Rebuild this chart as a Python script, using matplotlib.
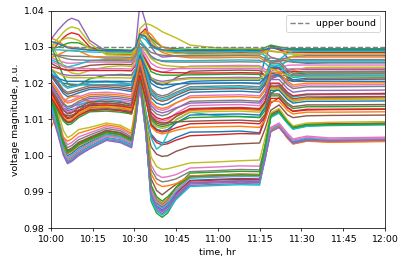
import matplotlib.pyplot as plt

# sample times, minutes after 10:00
MINUTES = [0, 2.5, 4.5, 6, 7.5, 10, 14, 20, 25, 29,
           30.5, 32, 34, 36, 38, 40, 42, 45, 50, 60,
           68, 75, 77, 79, 82, 85, 87, 92, 100, 120]

TICK_MINUTES = [0, 15, 30, 45, 60, 75, 90, 105, 120]
TICK_LABELS = ["10:00", "10:15", "10:30", "10:45", "11:00",
               "11:15", "11:30", "11:45", "12:00"]
UPPER_BOUND = 1.03

# buses that stay near the upper bound
high_1 = [1.0320, 1.0345, 1.0362, 1.0373, 1.0379, 1.0372, 1.0318, 1.0287, 1.0286, 1.0285,
          1.0300, 1.0420, 1.0370, 1.0300, 1.0280, 1.0272, 1.0273, 1.0275, 1.0276, 1.0277,
          1.0278, 1.0278, 1.0285, 1.0272, 1.0265, 1.0270, 1.0274, 1.0276, 1.0276, 1.0276]
high_2 = [1.0300, 1.0322, 1.0340, 1.0350, 1.0355, 1.0350, 1.0310, 1.0278, 1.0277, 1.0276,
          1.0290, 1.0350, 1.0365, 1.0360, 1.0352, 1.0342, 1.0335, 1.0325, 1.0305, 1.0297,
          1.0296, 1.0295, 1.0288, 1.0250, 1.0240, 1.0265, 1.0275, 1.0280, 1.0281, 1.0281]
high_3 = [1.0285, 1.0308, 1.0325, 1.0334, 1.0339, 1.0334, 1.0300, 1.0281, 1.0280, 1.0279,
          1.0295, 1.0335, 1.0350, 1.0320, 1.0300, 1.0290, 1.0287, 1.0284, 1.0282, 1.0283,
          1.0284, 1.0283, 1.0290, 1.0300, 1.0292, 1.0285, 1.0284, 1.0285, 1.0285, 1.0285]
high_4 = [1.0295, 1.0299, 1.0305, 1.0310, 1.0312, 1.0311, 1.0298, 1.0293, 1.0292, 1.0291,
          1.0300, 1.0325, 1.0340, 1.0325, 1.0310, 1.0300, 1.0297, 1.0295, 1.0293, 1.0293,
          1.0294, 1.0293, 1.0298, 1.0305, 1.0300, 1.0296, 1.0295, 1.0295, 1.0295, 1.0295]
high_5 = [1.0325, 1.0316, 1.0306, 1.0300, 1.0299, 1.0297, 1.0292, 1.0289, 1.0288, 1.0287,
          1.0298, 1.0330, 1.0332, 1.0310, 1.0295, 1.0285, 1.0280, 1.0274, 1.0270, 1.0270,
          1.0271, 1.0270, 1.0262, 1.0255, 1.0262, 1.0270, 1.0272, 1.0272, 1.0272, 1.0272]
high_6 = [1.0220, 1.0207, 1.0200, 1.0198, 1.0197, 1.0196, 1.0195, 1.0195, 1.0195, 1.0194,
          1.0220, 1.0280, 1.0240, 1.0200, 1.0190, 1.0185, 1.0188, 1.0196, 1.0205, 1.0207,
          1.0208, 1.0208, 1.0270, 1.0302, 1.0298, 1.0270, 1.0258, 1.0255, 1.0256, 1.0256]
high_7 = [1.0265, 1.0257, 1.0250, 1.0245, 1.0247, 1.0252, 1.0262, 1.0265, 1.0265, 1.0264,
          1.0280, 1.0320, 1.0300, 1.0270, 1.0265, 1.0262, 1.0262, 1.0262, 1.0262, 1.0263,
          1.0264, 1.0263, 1.0255, 1.0240, 1.0250, 1.0260, 1.0262, 1.0262, 1.0262, 1.0262]
high_8 = [1.0255, 1.0245, 1.0238, 1.0235, 1.0237, 1.0242, 1.0249, 1.0252, 1.0252, 1.0251,
          1.0265, 1.0290, 1.0250, 1.0210, 1.0198, 1.0195, 1.0200, 1.0215, 1.0233, 1.0235,
          1.0236, 1.0235, 1.0220, 1.0212, 1.0225, 1.0235, 1.0238, 1.0238, 1.0238, 1.0238]
high_9 = [1.0270, 1.0263, 1.0258, 1.0255, 1.0255, 1.0256, 1.0258, 1.0258, 1.0258, 1.0257,
          1.0272, 1.0300, 1.0270, 1.0240, 1.0233, 1.0230, 1.0233, 1.0240, 1.0247, 1.0248,
          1.0249, 1.0248, 1.0238, 1.0232, 1.0242, 1.0249, 1.0250, 1.0250, 1.0250, 1.0250]
high_10 = [1.0280, 1.0278, 1.0276, 1.0275, 1.0274, 1.0274, 1.0273, 1.0272, 1.0272, 1.0271,
           1.0285, 1.0310, 1.0300, 1.0285, 1.0280, 1.0277, 1.0276, 1.0276, 1.0275, 1.0275,
           1.0276, 1.0275, 1.0268, 1.0258, 1.0260, 1.0264, 1.0265, 1.0265, 1.0265, 1.0265]
high_11 = [1.0310, 1.0275, 1.0248, 1.0235, 1.0228, 1.0225, 1.0235, 1.0245, 1.0248, 1.0246,
           1.0262, 1.0300, 1.0290, 1.0268, 1.0257, 1.0250, 1.0248, 1.0246, 1.0245, 1.0245,
           1.0246, 1.0245, 1.0230, 1.0195, 1.0180, 1.0215, 1.0235, 1.0243, 1.0244, 1.0244]
high_12 = [1.0305, 1.0258, 1.0220, 1.0200, 1.0193, 1.0195, 1.0212, 1.0222, 1.0224, 1.0223,
           1.0240, 1.0285, 1.0265, 1.0232, 1.0225, 1.0222, 1.0222, 1.0222, 1.0223, 1.0224,
           1.0225, 1.0224, 1.0200, 1.0172, 1.0185, 1.0210, 1.0225, 1.0228, 1.0228, 1.0228]
high_13 = [1.0245, 1.0241, 1.0238, 1.0236, 1.0235, 1.0235, 1.0235, 1.0235, 1.0235, 1.0234,
           1.0250, 1.0290, 1.0265, 1.0240, 1.0234, 1.0230, 1.0229, 1.0229, 1.0228, 1.0228,
           1.0229, 1.0228, 1.0222, 1.0218, 1.0226, 1.0231, 1.0232, 1.0232, 1.0232, 1.0232]
high_14 = [1.0235, 1.0229, 1.0224, 1.0222, 1.0221, 1.0221, 1.0222, 1.0222, 1.0222, 1.0221,
           1.0240, 1.0285, 1.0250, 1.0215, 1.0208, 1.0205, 1.0207, 1.0211, 1.0215, 1.0215,
           1.0216, 1.0215, 1.0208, 1.0212, 1.0220, 1.0222, 1.0222, 1.0222, 1.0222, 1.0222]
high_15 = [1.0290, 1.0292, 1.0291, 1.0290, 1.0289, 1.0288, 1.0286, 1.0285, 1.0285, 1.0284,
           1.0295, 1.0330, 1.0320, 1.0300, 1.0294, 1.0290, 1.0288, 1.0287, 1.0285, 1.0286,
           1.0287, 1.0286, 1.0275, 1.0258, 1.0265, 1.0282, 1.0287, 1.0288, 1.0288, 1.0288]
high_16 = [1.0270, 1.0278, 1.0285, 1.0290, 1.0291, 1.0289, 1.0275, 1.0268, 1.0268, 1.0267,
           1.0285, 1.0320, 1.0345, 1.0335, 1.0315, 1.0300, 1.0295, 1.0290, 1.0287, 1.0287,
           1.0288, 1.0287, 1.0290, 1.0288, 1.0285, 1.0288, 1.0289, 1.0290, 1.0290, 1.0290]
high_17 = [1.0280, 1.0275, 1.0270, 1.0267, 1.0265, 1.0264, 1.0263, 1.0262, 1.0262, 1.0261,
           1.0275, 1.0310, 1.0295, 1.0275, 1.0265, 1.0260, 1.0259, 1.0258, 1.0258, 1.0258,
           1.0259, 1.0258, 1.0262, 1.0270, 1.0266, 1.0260, 1.0258, 1.0258, 1.0258, 1.0258]
high_18 = [1.0315, 1.0310, 1.0303, 1.0298, 1.0296, 1.0294, 1.0291, 1.0290, 1.0290, 1.0289,
           1.0300, 1.0335, 1.0328, 1.0305, 1.0296, 1.0292, 1.0291, 1.0290, 1.0290, 1.0290,
           1.0291, 1.0290, 1.0293, 1.0297, 1.0295, 1.0292, 1.0292, 1.0292, 1.0292, 1.0292]
high_19 = [1.0240, 1.0228, 1.0220, 1.0216, 1.0215, 1.0215, 1.0215, 1.0215, 1.0215, 1.0214,
           1.0235, 1.0290, 1.0255, 1.0215, 1.0203, 1.0200, 1.0203, 1.0208, 1.0212, 1.0212,
           1.0213, 1.0212, 1.0225, 1.0240, 1.0232, 1.0220, 1.0218, 1.0218, 1.0218, 1.0218]
high_20 = [1.0225, 1.0214, 1.0208, 1.0205, 1.0205, 1.0205, 1.0205, 1.0205, 1.0205, 1.0204,
           1.0225, 1.0275, 1.0245, 1.0210, 1.0200, 1.0196, 1.0196, 1.0198, 1.0200, 1.0200,
           1.0201, 1.0200, 1.0215, 1.0228, 1.0222, 1.0208, 1.0205, 1.0205, 1.0205, 1.0205]
high_21 = [1.0260, 1.0252, 1.0246, 1.0243, 1.0242, 1.0241, 1.0240, 1.0240, 1.0240, 1.0239,
           1.0255, 1.0300, 1.0280, 1.0255, 1.0245, 1.0241, 1.0240, 1.0240, 1.0240, 1.0240,
           1.0241, 1.0240, 1.0232, 1.0225, 1.0232, 1.0239, 1.0240, 1.0240, 1.0240, 1.0240]
high_22 = [1.0300, 1.0312, 1.0321, 1.0325, 1.0324, 1.0318, 1.0295, 1.0283, 1.0282, 1.0281,
           1.0295, 1.0330, 1.0340, 1.0318, 1.0300, 1.0290, 1.0285, 1.0282, 1.0280, 1.0280,
           1.0281, 1.0280, 1.0284, 1.0290, 1.0286, 1.0281, 1.0280, 1.0280, 1.0280, 1.0280]

# buses in the middle band
mid_1 = [1.0230, 1.0205, 1.0183, 1.0175, 1.0178, 1.0184, 1.0193, 1.0195, 1.0192, 1.0187,
         1.0230, 1.0290, 1.0230, 1.0180, 1.0165, 1.0160, 1.0164, 1.0175, 1.0190, 1.0192,
         1.0193, 1.0190, 1.0210, 1.0255, 1.0255, 1.0230, 1.0220, 1.0225, 1.0225, 1.0226]
mid_2 = [1.0220, 1.0194, 1.0172, 1.0163, 1.0166, 1.0173, 1.0183, 1.0185, 1.0182, 1.0177,
         1.0220, 1.0280, 1.0220, 1.0160, 1.0145, 1.0140, 1.0144, 1.0158, 1.0175, 1.0177,
         1.0178, 1.0175, 1.0195, 1.0244, 1.0244, 1.0219, 1.0209, 1.0214, 1.0214, 1.0215]
mid_3 = [1.0210, 1.0183, 1.0159, 1.0150, 1.0153, 1.0162, 1.0173, 1.0175, 1.0172, 1.0167,
         1.0210, 1.0270, 1.0210, 1.0145, 1.0130, 1.0125, 1.0129, 1.0145, 1.0165, 1.0167,
         1.0168, 1.0165, 1.0185, 1.0225, 1.0225, 1.0200, 1.0190, 1.0195, 1.0195, 1.0196]
mid_4 = [1.0200, 1.0171, 1.0145, 1.0135, 1.0138, 1.0150, 1.0163, 1.0165, 1.0162, 1.0157,
         1.0200, 1.0260, 1.0200, 1.0130, 1.0115, 1.0110, 1.0114, 1.0130, 1.0150, 1.0152,
         1.0153, 1.0150, 1.0170, 1.0220, 1.0220, 1.0195, 1.0185, 1.0190, 1.0190, 1.0191]
mid_5 = [1.0190, 1.0159, 1.0131, 1.0120, 1.0123, 1.0138, 1.0153, 1.0155, 1.0152, 1.0147,
         1.0190, 1.0250, 1.0190, 1.0115, 1.0100, 1.0095, 1.0099, 1.0117, 1.0138, 1.0140,
         1.0141, 1.0138, 1.0158, 1.0198, 1.0198, 1.0173, 1.0163, 1.0168, 1.0168, 1.0169]
mid_6 = [1.0180, 1.0146, 1.0116, 1.0105, 1.0108, 1.0126, 1.0143, 1.0145, 1.0142, 1.0137,
         1.0180, 1.0240, 1.0180, 1.0105, 1.0090, 1.0085, 1.0089, 1.0108, 1.0130, 1.0132,
         1.0133, 1.0130, 1.0150, 1.0192, 1.0192, 1.0167, 1.0157, 1.0162, 1.0162, 1.0163]
mid_7 = [1.0172, 1.0138, 1.0108, 1.0097, 1.0100, 1.0118, 1.0135, 1.0137, 1.0134, 1.0129,
         1.0172, 1.0232, 1.0172, 1.0095, 1.0080, 1.0075, 1.0079, 1.0098, 1.0120, 1.0122,
         1.0123, 1.0120, 1.0140, 1.0185, 1.0185, 1.0160, 1.0150, 1.0155, 1.0155, 1.0156]
mid_8 = [1.0165, 1.0131, 1.0101, 1.0090, 1.0093, 1.0111, 1.0128, 1.0130, 1.0127, 1.0122,
         1.0165, 1.0225, 1.0165, 1.0088, 1.0073, 1.0068, 1.0072, 1.0090, 1.0112, 1.0114,
         1.0115, 1.0112, 1.0132, 1.0180, 1.0180, 1.0155, 1.0145, 1.0150, 1.0150, 1.0151]
mid_9 = [1.0158, 1.0125, 1.0096, 1.0085, 1.0088, 1.0105, 1.0121, 1.0123, 1.0120, 1.0115,
         1.0158, 1.0218, 1.0158, 1.0100, 1.0085, 1.0080, 1.0084, 1.0092, 1.0105, 1.0107,
         1.0108, 1.0105, 1.0125, 1.0165, 1.0165, 1.0140, 1.0130, 1.0135, 1.0135, 1.0136]
mid_10 = [1.0175, 1.0142, 1.0113, 1.0102, 1.0105, 1.0122, 1.0138, 1.0140, 1.0137, 1.0132,
          1.0175, 1.0235, 1.0175, 1.0120, 1.0105, 1.0100, 1.0104, 1.0114, 1.0128, 1.0130,
          1.0131, 1.0128, 1.0148, 1.0200, 1.0200, 1.0175, 1.0165, 1.0170, 1.0170, 1.0171]
mid_11 = [1.0195, 1.0166, 1.0140, 1.0130, 1.0133, 1.0145, 1.0158, 1.0160, 1.0157, 1.0152,
          1.0195, 1.0255, 1.0195, 1.0138, 1.0123, 1.0118, 1.0122, 1.0132, 1.0145, 1.0147,
          1.0148, 1.0145, 1.0165, 1.0210, 1.0210, 1.0185, 1.0175, 1.0180, 1.0180, 1.0181]
mid_12 = [1.0225, 1.0200, 1.0178, 1.0170, 1.0173, 1.0179, 1.0188, 1.0190, 1.0187, 1.0182,
          1.0225, 1.0285, 1.0225, 1.0170, 1.0155, 1.0150, 1.0154, 1.0166, 1.0182, 1.0184,
          1.0185, 1.0182, 1.0200, 1.0240, 1.0240, 1.0215, 1.0205, 1.0210, 1.0210, 1.0211]
mid_13 = [1.0077, 1.0115, 1.0145, 1.0158, 1.0163, 1.0165, 1.0148, 1.0140, 1.0138, 1.0133,
          1.0178, 1.0238, 1.0178, 1.0108, 1.0094, 1.0090, 1.0093, 1.0108, 1.0125, 1.0127,
          1.0128, 1.0125, 1.0145, 1.0188, 1.0188, 1.0163, 1.0153, 1.0158, 1.0158, 1.0159]
mid_14 = [1.0168, 1.0134, 1.0104, 1.0093, 1.0096, 1.0114, 1.0131, 1.0133, 1.0130, 1.0125,
          1.0168, 1.0228, 1.0168, 1.0080, 1.0065, 1.0060, 1.0063, 1.0070, 1.0078, 1.0080,
          1.0081, 1.0078, 1.0098, 1.0150, 1.0150, 1.0125, 1.0115, 1.0120, 1.0120, 1.0121]
mid_15 = [1.0162, 1.0131, 1.0103, 1.0092, 1.0095, 1.0110, 1.0125, 1.0127, 1.0124, 1.0119,
          1.0162, 1.0222, 1.0162, 1.0085, 1.0070, 1.0065, 1.0068, 1.0077, 1.0088, 1.0090,
          1.0091, 1.0088, 1.0108, 1.0158, 1.0158, 1.0133, 1.0123, 1.0128, 1.0128, 1.0129]
mid_16 = [1.0185, 1.0154, 1.0126, 1.0115, 1.0118, 1.0133, 1.0148, 1.0150, 1.0147, 1.0142,
          1.0185, 1.0245, 1.0185, 1.0110, 1.0095, 1.0090, 1.0091, 1.0093, 1.0095, 1.0097,
          1.0098, 1.0095, 1.0115, 1.0170, 1.0170, 1.0145, 1.0135, 1.0140, 1.0140, 1.0141]
mid_17 = [1.0240, 1.0218, 1.0198, 1.0190, 1.0193, 1.0196, 1.0203, 1.0205, 1.0202, 1.0197,
          1.0240, 1.0300, 1.0240, 1.0185, 1.0170, 1.0165, 1.0169, 1.0182, 1.0198, 1.0200,
          1.0201, 1.0198, 1.0218, 1.0262, 1.0262, 1.0237, 1.0227, 1.0232, 1.0232, 1.0233]
mid_18 = [1.0238, 1.0215, 1.0194, 1.0186, 1.0189, 1.0193, 1.0201, 1.0203, 1.0200, 1.0195,
          1.0238, 1.0298, 1.0238, 1.0175, 1.0160, 1.0155, 1.0159, 1.0171, 1.0186, 1.0188,
          1.0189, 1.0186, 1.0206, 1.0250, 1.0250, 1.0225, 1.0215, 1.0220, 1.0220, 1.0221]
mid_19 = [1.0205, 1.0178, 1.0154, 1.0145, 1.0148, 1.0157, 1.0168, 1.0170, 1.0167, 1.0162,
          1.0205, 1.0265, 1.0205, 1.0150, 1.0135, 1.0130, 1.0134, 1.0146, 1.0160, 1.0162,
          1.0163, 1.0160, 1.0180, 1.0230, 1.0230, 1.0205, 1.0195, 1.0200, 1.0200, 1.0201]

# buses that drop to about 1.00 after 10:35
midlow_1 = [1.0190, 1.0155, 1.0132, 1.0125, 1.0127, 1.0133, 1.0140, 1.0145, 1.0142, 1.0130,
            1.0180, 1.0250, 1.0120, 1.0060, 1.0042, 1.0035, 1.0038, 1.0050, 1.0065, 1.0066,
            1.0068, 1.0063, 1.0110, 1.0170, 1.0187, 1.0160, 1.0150, 1.0158, 1.0161, 1.0162]
midlow_2 = [1.0180, 1.0145, 1.0125, 1.0118, 1.0120, 1.0125, 1.0132, 1.0138, 1.0134, 1.0122,
            1.0172, 1.0240, 1.0110, 1.0055, 1.0036, 1.0030, 1.0033, 1.0043, 1.0055, 1.0058,
            1.0061, 1.0060, 1.0100, 1.0145, 1.0160, 1.0132, 1.0122, 1.0126, 1.0127, 1.0128]
midlow_3 = [1.0170, 1.0135, 1.0116, 1.0110, 1.0112, 1.0117, 1.0124, 1.0130, 1.0126, 1.0115,
            1.0165, 1.0235, 1.0100, 1.0025, 1.0004, 0.9998, 1.0000, 1.0012, 1.0025, 1.0029,
            1.0033, 1.0035, 1.0075, 1.0125, 1.0140, 1.0113, 1.0105, 1.0110, 1.0111, 1.0112]
midlow_4 = [1.0200, 1.0165, 1.0142, 1.0135, 1.0137, 1.0141, 1.0148, 1.0155, 1.0150, 1.0138,
            1.0190, 1.0270, 1.0130, 1.0050, 1.0018, 1.0030, 1.0060, 1.0100, 1.0120, 1.0110,
            1.0108, 1.0106, 1.0140, 1.0185, 1.0195, 1.0170, 1.0162, 1.0168, 1.0170, 1.0172]

# buses with the deepest sags
low_1 = [1.0150, 1.0073, 1.0004, 0.9978, 0.9984, 1.0000, 1.0020, 1.0045, 1.0039, 1.0025,
         1.0095, 1.0200, 1.0080, 0.9885, 0.9852, 0.9840, 0.9852, 0.9883, 0.9918, 0.9921,
         0.9923, 0.9922, 0.9991, 1.0068, 1.0080, 1.0052, 1.0036, 1.0044, 1.0040, 1.0042]
low_2 = [1.0160, 1.0084, 1.0016, 0.9990, 0.9996, 1.0012, 1.0031, 1.0055, 1.0049, 1.0034,
         1.0104, 1.0210, 1.0090, 0.9875, 0.9842, 0.9830, 0.9842, 0.9882, 0.9925, 0.9928,
         0.9930, 0.9929, 1.0013, 1.0108, 1.0120, 1.0091, 1.0075, 1.0083, 1.0086, 1.0088]
low_3 = [1.0140, 1.0075, 1.0017, 0.9995, 1.0001, 1.0017, 1.0035, 1.0058, 1.0052, 1.0036,
         1.0106, 1.0190, 1.0070, 0.9900, 0.9867, 0.9855, 0.9867, 0.9901, 0.9938, 0.9941,
         0.9943, 0.9942, 1.0004, 1.0073, 1.0085, 1.0056, 1.0040, 1.0048, 1.0044, 1.0046]
low_4 = [1.0120, 1.0068, 1.0022, 1.0005, 1.0011, 1.0027, 1.0042, 1.0062, 1.0056, 1.0040,
         1.0110, 1.0220, 1.0100, 0.9915, 0.9882, 0.9870, 0.9882, 0.9911, 0.9944, 0.9947,
         0.9949, 0.9948, 1.0006, 1.0070, 1.0082, 1.0049, 1.0033, 1.0041, 1.0038, 1.0040]
low_5 = [1.0170, 1.0099, 1.0036, 1.0012, 1.0018, 1.0034, 1.0048, 1.0068, 1.0062, 1.0045,
         1.0115, 1.0200, 1.0080, 0.9903, 0.9870, 0.9858, 0.9870, 0.9898, 0.9930, 0.9933,
         0.9935, 0.9934, 1.0018, 1.0113, 1.0125, 1.0094, 1.0078, 1.0086, 1.0088, 1.0090]
low_6 = [1.0185, 1.0124, 1.0070, 1.0050, 1.0056, 1.0072, 1.0078, 1.0090, 1.0084, 1.0068,
         1.0138, 1.0240, 1.0110, 0.9997, 0.9970, 0.9962, 0.9964, 0.9970, 0.9980, 0.9983,
         0.9986, 0.9988, 1.0050, 1.0118, 1.0130, 1.0098, 1.0082, 1.0090, 1.0092, 1.0094]
low_7 = [1.0175, 1.0110, 1.0052, 1.0030, 1.0036, 1.0052, 1.0063, 1.0080, 1.0074, 1.0058,
         1.0128, 1.0230, 1.0100, 0.9975, 0.9948, 0.9940, 0.9942, 0.9948, 0.9966, 0.9969,
         0.9972, 0.9971, 1.0022, 1.0078, 1.0090, 1.0062, 1.0046, 1.0054, 1.0049, 1.0051]
low_8 = [1.0165, 1.0101, 1.0043, 1.0022, 1.0028, 1.0044, 1.0057, 1.0075, 1.0069, 1.0052,
         1.0122, 1.0220, 1.0090, 0.9963, 0.9936, 0.9928, 0.9930, 0.9936, 0.9956, 0.9959,
         0.9962, 0.9961, 1.0031, 1.0110, 1.0122, 1.0092, 1.0076, 1.0084, 1.0084, 1.0086]
low_9 = [1.0155, 1.0085, 1.0023, 1.0000, 1.0006, 1.0022, 1.0038, 1.0060, 1.0054, 1.0038,
         1.0108, 1.0210, 1.0090, 0.9895, 0.9862, 0.9850, 0.9862, 0.9895, 0.9932, 0.9935,
         0.9937, 0.9936, 1.0000, 1.0072, 1.0084, 1.0054, 1.0038, 1.0046, 1.0042, 1.0044]
low_10 = [1.0190, 1.0111, 1.0041, 1.0015, 1.0021, 1.0037, 1.0051, 1.0070, 1.0064, 1.0048,
          1.0118, 1.0230, 1.0110, 0.9937, 0.9904, 0.9892, 0.9904, 0.9921, 0.9944, 0.9947,
          0.9949, 0.9948, 1.0027, 1.0116, 1.0128, 1.0095, 1.0079, 1.0087, 1.0087, 1.0089]
low_11 = [1.0130, 1.0065, 1.0007, 0.9985, 0.9991, 1.0007, 1.0026, 1.0050, 1.0044, 1.0030,
          1.0100, 1.0200, 1.0080, 0.9890, 0.9857, 0.9845, 0.9857, 0.9887, 0.9922, 0.9925,
          0.9927, 0.9926, 0.9993, 1.0067, 1.0079, 1.0051, 1.0035, 1.0043, 1.0039, 1.0041]
low_12 = [1.0110, 1.0079, 1.0051, 1.0040, 1.0046, 1.0062, 1.0071, 1.0085, 1.0079, 1.0062,
          1.0132, 1.0220, 1.0090, 0.9950, 0.9923, 0.9915, 0.9917, 0.9923, 0.9944, 0.9946,
          0.9948, 0.9947, 1.0005, 1.0068, 1.0080, 1.0048, 1.0032, 1.0040, 1.0037, 1.0039]
low_13 = [1.0180, 1.0104, 1.0036, 1.0010, 1.0016, 1.0032, 1.0046, 1.0065, 1.0059, 1.0042,
          1.0112, 1.0210, 1.0090, 0.9910, 0.9877, 0.9865, 0.9877, 0.9913, 0.9952, 0.9955,
          0.9957, 0.9956, 1.0027, 1.0106, 1.0118, 1.0090, 1.0074, 1.0082, 1.0085, 1.0087]
low_14 = [1.0145, 1.0072, 1.0006, 0.9982, 0.9988, 1.0004, 1.0023, 1.0048, 1.0042, 1.0028,
          1.0098, 1.0205, 1.0085, 0.9881, 0.9848, 0.9836, 0.9848, 0.9879, 0.9915, 0.9918,
          0.9920, 0.9919, 1.0006, 1.0106, 1.0118, 1.0089, 1.0073, 1.0081, 1.0083, 1.0085]
low_15 = [1.0135, 1.0071, 1.0013, 0.9992, 0.9998, 1.0014, 1.0032, 1.0055, 1.0049, 1.0035,
          1.0105, 1.0195, 1.0075, 0.9907, 0.9874, 0.9862, 0.9874, 0.9905, 0.9940, 0.9943,
          0.9945, 0.9944, 1.0007, 1.0076, 1.0088, 1.0059, 1.0043, 1.0051, 1.0046, 1.0048]
low_16 = [1.0165, 1.0094, 1.0032, 1.0008, 1.0014, 1.0030, 1.0044, 1.0064, 1.0058, 1.0043,
          1.0113, 1.0215, 1.0095, 0.9920, 0.9887, 0.9875, 0.9887, 0.9912, 0.9942, 0.9945,
          0.9947, 0.9946, 1.0023, 1.0110, 1.0122, 1.0093, 1.0077, 1.0085, 1.0085, 1.0087]
low_17 = [1.0125, 1.0060, 1.0002, 0.9980, 0.9986, 1.0002, 1.0019, 1.0042, 1.0036, 1.0022,
          1.0092, 1.0195, 1.0075, 0.9893, 0.9860, 0.9848, 0.9860, 0.9891, 0.9926, 0.9929,
          0.9931, 0.9930, 0.9994, 1.0066, 1.0078, 1.0050, 1.0034, 1.0042, 1.0041, 1.0043]

# plotting order decides the colour each bus gets from the default cycle
BUSES = [
    high_6, high_5, high_4, high_3, high_1, high_8, high_9, high_10, high_2, high_7,
    midlow_1, high_16, high_12, midlow_2, high_14, midlow_3, mid_5, mid_1, high_11, midlow_4,
    low_9, low_4, low_2, low_5, low_1, low_10, low_7, low_8, low_6, low_3,
    mid_2, mid_13, low_13, high_13, low_11, mid_6, mid_3, mid_4, mid_7, high_15,
    mid_8, low_12, mid_9, mid_10, mid_11, mid_12, low_15, high_17, high_22, low_14,
    high_18, mid_14, low_16, mid_15, low_17, mid_16, high_21, mid_17, high_19, mid_18,
    high_20, mid_19,
]


def plot_and_save(path):
    fig, ax = plt.subplots(figsize=(6, 3.931))
    fig.subplots_adjust(left=0.125, right=0.948, top=0.96, bottom=0.142)

    for bus in BUSES:
        ax.plot(MINUTES, bus)

    ax.axhline(UPPER_BOUND, color="gray", linestyle="--", label="upper bound")

    ax.set_xlim(MINUTES[0], MINUTES[-1])
    ax.set_ylim(0.98, 1.04)
    ax.set_xticks(TICK_MINUTES, labels=TICK_LABELS)
    ax.set_xlabel("time, hr")
    ax.set_ylabel("voltage magnitude, p.u.")
    ax.legend(loc="upper right")

    plt.savefig(path, dpi=67.67)


def main():
    plot_and_save("out.png")


if __name__ == "__main__":
    main()
